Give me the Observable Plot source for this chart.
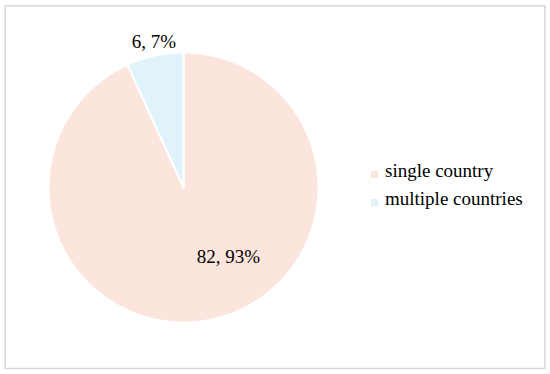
<!DOCTYPE html>
<html><head><meta charset="utf-8">
<script src="https://cdn.jsdelivr.net/npm/d3@7"></script>
<script src="https://cdn.jsdelivr.net/npm/@observablehq/plot@0.6"></script>
<style>
body{margin:0;background:#fff}
#chart{position:relative;width:550px;height:374px;font-family:"Liberation Serif","Times New Roman",serif}
#legend{position:absolute;left:371px;top:156.5px}
.row{position:relative;height:28px;width:170px}
.sw{position:absolute;left:0;top:14.5px;width:7px;height:7px}
.lb{position:absolute;left:14px;top:0;line-height:28px;font-size:19px;color:#000;white-space:nowrap}
</style>
</head><body><div id="chart"></div>
<script>
const categories = ["single country", "multiple countries"];
const counts = [82, 6];
const percents = [93, 7];
const colors = ["#fce5dc", "#e0f2fa"];

const rows = categories.map((c, i) => ({category: c, value: counts[i], pct: percents[i]}));
const arcs = d3.pie().sort(null).value(d => d.value)(rows);

const poly = [];
arcs.forEach(a => {
  poly.push({category: a.data.category, x: 0, y: 0});
  const steps = Math.max(4, Math.ceil((a.endAngle - a.startAngle) / (2 * Math.PI) * 360));
  for (let k = 0; k <= steps; k++) {
    const t = a.startAngle + (a.endAngle - a.startAngle) * k / steps;
    poly.push({category: a.data.category, x: Math.sin(t), y: Math.cos(t)});
  }
});

const labels = arcs.map(a => {
  const mid = (a.startAngle + a.endAngle) / 2;
  const outside = (a.endAngle - a.startAngle) < 0.1 * 2 * Math.PI;
  const r = outside ? 1.1 : 0.62;
  return {x: Math.sin(mid) * r, y: Math.cos(mid) * r, outside,
          text: `${a.data.value}, ${a.data.pct}%`};
});

const plot = Plot.plot({
  width: 550, height: 374,
  marginLeft: 4.7, marginTop: 5.3, marginRight: 5.5, marginBottom: 6,
  x: {domain: [-1, 1], range: [48, 318], axis: null},
  y: {domain: [-1, 1], range: [322, 52], axis: null},
  color: {domain: categories, range: colors},
  style: {fontFamily: '"Liberation Serif","Times New Roman",serif', background: "#fff"},
  marks: [
    Plot.frame({stroke: "#d9d9d9", strokeWidth: 1.5}),
    Plot.line(poly, {x: "x", y: "y", z: "category", fill: "category", stroke: "white", strokeWidth: 2, curve: "linear-closed"}),
    Plot.text(labels.filter(d => !d.outside), {x: "x", y: "y", text: "text", fontSize: 19, fill: "#000", dx: 27, dy: -12}),
    Plot.text(labels.filter(d => d.outside), {x: "x", y: "y", text: "text", fontSize: 19, fill: "#000", dx: 2, dy: 0})
  ]
});

const chart = document.getElementById("chart");
chart.appendChild(plot);
const legend = document.createElement("div");
legend.id = "legend";
categories.forEach((c, i) => {
  const row = document.createElement("div");
  row.className = "row";
  const sw = document.createElement("div");
  sw.className = "sw";
  sw.style.background = colors[i];
  const lb = document.createElement("div");
  lb.className = "lb";
  lb.textContent = c;
  row.appendChild(sw); row.appendChild(lb);
  legend.appendChild(row);
});
chart.appendChild(legend);
</script>
</body></html>
